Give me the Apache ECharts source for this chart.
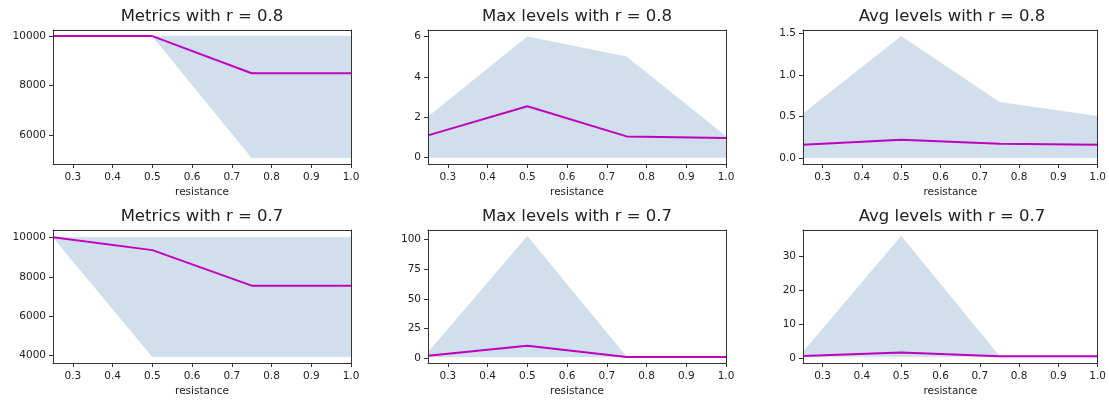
<!DOCTYPE html>
<html>
<head>
<meta charset="utf-8">
<script src="https://cdn.jsdelivr.net/npm/echarts@6/dist/echarts.min.js"></script>
<style>
html, body { margin: 0; padding: 0; background: #fff; }
#chart { width: 1109px; height: 402px; }
</style>
</head>
<body>
<div id="chart"></div>
<script>
// shared x values and ticks
var resistance = [0.25, 0.5, 0.75, 1.0];
var xTicks = [0.3, 0.4, 0.5, 0.6, 0.7, 0.8, 0.9, 1.0];

// r = 0.8
var metrics08 = [10000, 10000, 8500, 8500];
var metrics08Low = [10000, 10000, 5090, 5090];
var metrics08High = [10000, 10000, 10000, 10000];
var metrics08Ticks = [6000, 8000, 10000];

var max08 = [1.1, 2.55, 1.05, 0.97];
var max08Low = [0, 0, 0, 0];
var max08High = [2.02, 6.0, 5.0, 1.05];
var max08Ticks = [0, 2, 4, 6];

var avg08 = [0.157, 0.218, 0.168, 0.157];
var avg08Low = [0, 0, 0, 0];
var avg08High = [0.53, 1.466, 0.67, 0.5];
var avg08Ticks = [0, 0.5, 1.0, 1.5];

// r = 0.7
var metrics07 = [10000, 9350, 7550, 7550];
var metrics07Low = [10000, 3950, 3950, 3950];
var metrics07High = [10000, 10000, 10000, 10000];
var metrics07Ticks = [4000, 6000, 8000, 10000];

var max07 = [2.2, 10.5, 1.1, 1.1];
var max07Low = [1.1, 1.1, 1.1, 1.1];
var max07High = [5, 102.5, 1.1, 1.1];
var max07Ticks = [0, 25, 50, 75, 100];

var avg07 = [0.68, 1.7, 0.58, 0.58];
var avg07Low = [0.4, 0.4, 0.4, 0.4];
var avg07High = [1.8, 35.8, 0.6, 0.6];
var avg07Ticks = [0, 10, 20, 30];

var panels = [
	{ title: 'Metrics with r = 0.8', mean: metrics08, low: metrics08Low, high: metrics08High, ticks: metrics08Ticks, min: 4835, max: 10245, dec: 0, left: 53, top: 30, height: 134 },
	{ title: 'Max levels with r = 0.8', mean: max08, low: max08Low, high: max08High, ticks: max08Ticks, min: -0.32, max: 6.33, dec: 0, left: 428, top: 30, height: 134 },
	{ title: 'Avg levels with r = 0.8', mean: avg08, low: avg08Low, high: avg08High, ticks: avg08Ticks, min: -0.075, max: 1.54, dec: 1, left: 803, top: 30, height: 134 },
	{ title: 'Metrics with r = 0.7', mean: metrics07, low: metrics07Low, high: metrics07High, ticks: metrics07Ticks, min: 3630, max: 10370, dec: 0, left: 53, top: 230, height: 133 },
	{ title: 'Max levels with r = 0.7', mean: max07, low: max07Low, high: max07High, ticks: max07Ticks, min: -3.9, max: 107.8, dec: 0, left: 428, top: 230, height: 133 },
	{ title: 'Avg levels with r = 0.7', mean: avg07, low: avg07Low, high: avg07High, ticks: avg07Ticks, min: -1.4, max: 37.6, dec: 0, left: 803, top: 230, height: 133 }
];

var FONT = 'DejaVu Sans';
var AXIS_COLOR = '#333';
var TEXT_COLOR = '#222';
var PLOT_W = 298;

function pairs(xs, ys)
{
	var out = [];
	for (var i = 0; i < xs.length; i++) out.push([xs[i], ys[i]]);
	return out;
}

// fill_between: one polygon, upper edge left->right then lower edge back
function renderBand(params, api)
{
	if (params.dataIndex !== 0) return null;
	var n = params.dataInsideLength;
	var pts = [];
	for (var k = 0; k < n; k++) pts.push(api.coord([api.value(0, k), api.value(2, k)]));
	for (var k = n - 1; k >= 0; k--) pts.push(api.coord([api.value(0, k), api.value(1, k)]));
	return {
		type: 'polygon',
		shape: { points: pts },
		style: { fill: '#d0dfeb', stroke: '#d0dfeb', lineWidth: 0.5 }
	};
}

var option = {
	animation: false,
	backgroundColor: '#fff',
	title: [],
	grid: [],
	xAxis: [],
	yAxis: [],
	series: []
};

for (var i = 0; i < panels.length; i++)
{
	var p = panels[i];
	var dec = p.dec;

	option.title.push({
		text: p.title,
		left: p.left + PLOT_W / 2,
		top: p.top - 22,
		textAlign: 'center',
		padding: 0,
		textStyle: { fontFamily: FONT, fontSize: 16.5, fontWeight: 'normal', color: TEXT_COLOR }
	});

	option.grid.push({ left: p.left, top: p.top, width: PLOT_W, height: p.height, show: false });

	// bottom axis with ticks
	option.xAxis.push({
		gridIndex: i, type: 'value', position: 'bottom', min: 0.25, max: 1.0, z: 5,
		axisLine: { show: true, onZero: false, lineStyle: { color: AXIS_COLOR, width: 1 } },
		axisTick: { show: true, customValues: xTicks, length: 4, lineStyle: { color: AXIS_COLOR } },
		axisLabel: {
			customValues: xTicks, margin: 8, fontFamily: FONT, fontSize: 10.5, color: TEXT_COLOR,
			formatter: function(v) { return v.toFixed(1); }
		},
		splitLine: { show: false },
		name: 'resistance', nameLocation: 'middle', nameGap: 23,
		nameTextStyle: { fontFamily: FONT, fontSize: 10.5, color: TEXT_COLOR }
	});
	// top frame line
	option.xAxis.push({
		gridIndex: i, type: 'value', position: 'top', min: 0.25, max: 1.0, z: 5,
		axisLine: { show: true, onZero: false, lineStyle: { color: AXIS_COLOR, width: 1 } },
		axisTick: { show: false }, axisLabel: { show: false }, splitLine: { show: false }
	});

	// left axis with ticks
	option.yAxis.push({
		gridIndex: i, type: 'value', position: 'left', min: p.min, max: p.max, z: 5,
		axisLine: { show: true, onZero: false, lineStyle: { color: AXIS_COLOR, width: 1 } },
		axisTick: { show: true, customValues: p.ticks, length: 4, lineStyle: { color: AXIS_COLOR } },
		axisLabel: {
			customValues: p.ticks, margin: 7, fontFamily: FONT, fontSize: 10.5, color: TEXT_COLOR,
			formatter: (function(d) { return function(v) { return v.toFixed(d); }; })(dec)
		},
		splitLine: { show: false }
	});
	// right frame line
	option.yAxis.push({
		gridIndex: i, type: 'value', position: 'right', min: p.min, max: p.max, z: 5,
		axisLine: { show: true, onZero: false, lineStyle: { color: AXIS_COLOR, width: 1 } },
		axisTick: { show: false }, axisLabel: { show: false }, splitLine: { show: false }
	});

	var band = [];
	for (var k = 0; k < resistance.length; k++) band.push([resistance[k], p.low[k], p.high[k]]);

	option.series.push({
		type: 'custom', xAxisIndex: 2 * i, yAxisIndex: 2 * i, silent: true, z: 1,
		data: band, encode: { x: 0, y: [1, 2] },
		renderItem: renderBand
	});
	option.series.push({
		type: 'line', xAxisIndex: 2 * i, yAxisIndex: 2 * i,
		data: pairs(resistance, p.mean), symbol: 'none', silent: true,
		lineStyle: { color: '#bf00bf', width: 2 }, z: 3
	});
}

var chart = echarts.init(document.getElementById('chart'));
chart.setOption(option);
</script>
</body>
</html>
